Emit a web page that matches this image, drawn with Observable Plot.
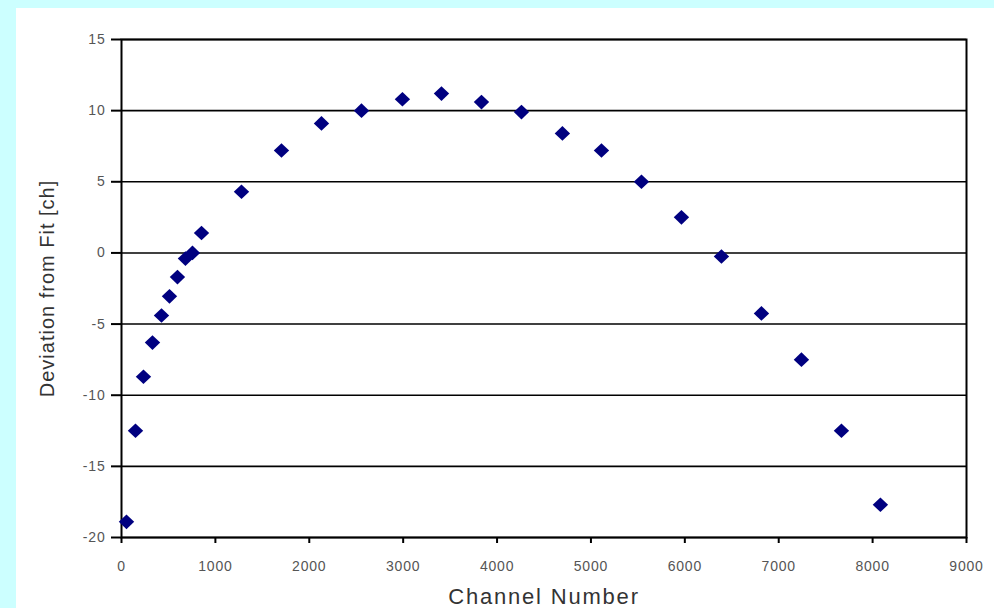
<!DOCTYPE html>
<html>
<head>
<meta charset="utf-8">
<script src="https://cdn.jsdelivr.net/npm/d3@7"></script>
<script src="https://cdn.jsdelivr.net/npm/@observablehq/plot@0.6"></script>
<style>
  html, body { margin: 0; padding: 0; background: #ccffff; width: 994px; height: 608px; overflow: hidden; }
  #chart { position: absolute; left: 16px; top: 8px; width: 978px; height: 600px; background: #ffffff; }
  #chart svg { background: #ffffff; }
</style>
</head>
<body>
<div id="chart"></div>
<script>
const channel = [53, 149, 234, 330, 426, 511, 596, 681, 756, 852, 1278, 1704, 2130, 2556, 2992, 3408, 3834, 4260, 4696, 5112, 5538, 5964, 6390, 6816, 7242, 7668, 8083];
const deviation = [-18.9, -12.5, -8.7, -6.3, -4.4, -3.05, -1.7, -0.4, 0.0, 1.4, 4.3, 7.2, 9.1, 10.0, 10.8, 11.2, 10.6, 9.9, 8.4, 7.2, 5.0, 2.5, -0.25, -4.25, -7.5, -12.5, -17.7];
const xTicks = [0, 1000, 2000, 3000, 4000, 5000, 6000, 7000, 8000, 9000];
const yTicks = [-20, -15, -10, -5, 0, 5, 10, 15];

const data = channel.map((c, i) => ({x: c, y: deviation[i]}));

const squareDiamond = {
  draw(ctx, size) {
    const r = Math.sqrt(size) * 0.62625;
    ctx.moveTo(0, -r);
    ctx.lineTo(r * 1.05, 0);
    ctx.lineTo(0, r);
    ctx.lineTo(-r * 1.05, 0);
    ctx.closePath();
  }
};

const chart = Plot.plot({
  width: 978,
  height: 600,
  marginLeft: 105,
  marginTop: 31,
  marginRight: 28,
  marginBottom: 71,
  style: {fontFamily: "Liberation Sans, Arial, sans-serif", background: "#ffffff"},
  x: {domain: [0, 9000]},
  y: {domain: [-20, 15]},
  marks: [
    Plot.ruleY(yTicks, {stroke: "#000", strokeWidth: 1.6}),
    Plot.frame({stroke: "#000", strokeWidth: 2}),
    Plot.axisX({
      ticks: xTicks, tickSize: 6, tickPadding: 18, tickFormat: d => String(d),
      fontSize: 14, color: "#555", stroke: "#000", strokeWidth: 2,
      label: "Channel Number", labelAnchor: "center", labelArrow: "none", labelOffset: 66
    }),
    Plot.axisY({
      ticks: yTicks, tickSize: 10, tickPadding: 6, tickFormat: d => String(d),
      fontSize: 14, color: "#555", stroke: "#000", strokeWidth: 2,
      label: "Deviation from Fit [ch]", labelAnchor: "center", labelArrow: "none", labelOffset: 82
    }),
    Plot.dot(data, {x: "x", y: "y", symbol: squareDiamond, r: 6.6, fill: "#000080", stroke: "none"})
  ]
});

// style axis labels
chart.querySelectorAll("[aria-label='x-axis label'] text").forEach(t => {
  t.setAttribute("font-size", "22");
  t.setAttribute("fill", "#333");
  t.style.fontSize = "22px";
  t.style.letterSpacing = "1.8px";
});
chart.querySelectorAll("[aria-label='y-axis label'] text").forEach(t => {
  t.setAttribute("font-size", "20");
  t.setAttribute("fill", "#333");
  t.style.fontSize = "20px";
  t.style.letterSpacing = "1px";
});
chart.querySelectorAll("[aria-label='x-axis tick label'] text, [aria-label='y-axis tick label'] text").forEach(t => {
  t.setAttribute("fill", "#555");
  t.style.letterSpacing = "0.8px";
});
document.getElementById("chart").appendChild(chart);
</script>
</body>
</html>
